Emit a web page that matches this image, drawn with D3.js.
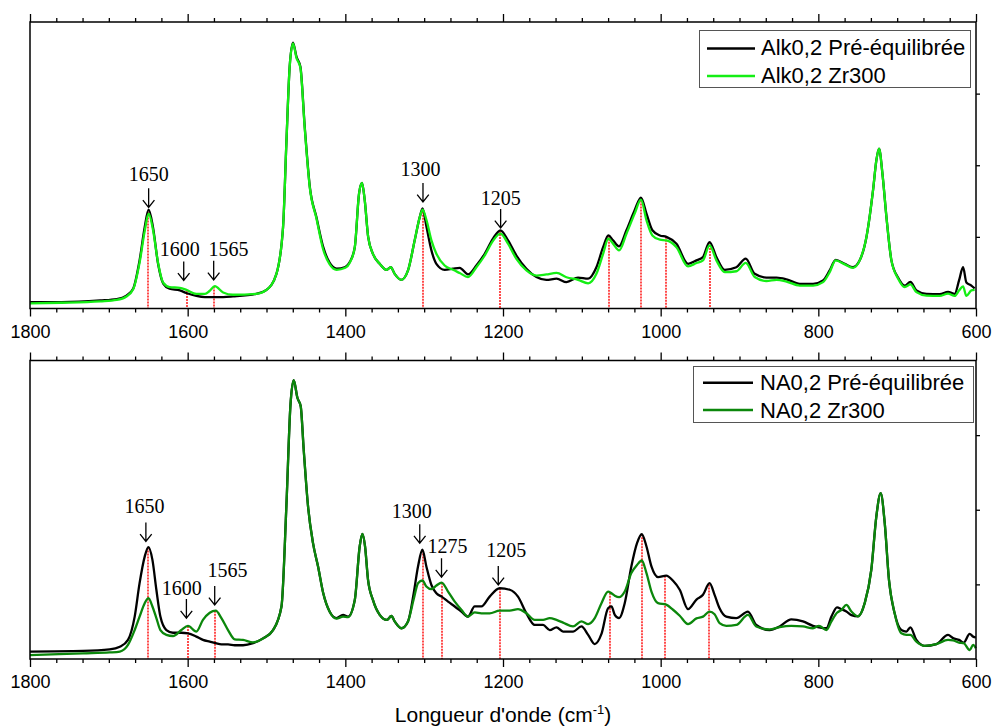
<!DOCTYPE html>
<html><head><meta charset="utf-8">
<script src="https://cdn.jsdelivr.net/npm/d3@7/dist/d3.min.js"></script>
<style>
html,body{margin:0;padding:0;background:#fff;}
svg{display:block;}
</style></head>
<body>
<svg id="chart" width="992" height="728"></svg>
<script>
// ---------------- DATA ----------------
const xMajorTicks = [1800, 1600, 1400, 1200, 1000, 800, 600];
const seriesNamesTop = ["Alk0,2 Pré-équilibrée", "Alk0,2 Zr300"];
const seriesNamesBot = ["NA0,2 Pré-équilibrée", "NA0,2 Zr300"];

const wnTop = [1800,1760,1711,1690,1677.7,1669,1661,1654.5,1649.5,1644,1637.6,1631,1623,1610,1601.6,1589,1578,1572,1565.6,1555,1542.5,1513,1500,1487.4,1479,1474.8,1470.6,1466.4,1462,1457,1451.5,1445,1436.7,1428,1420,1411,1400,1394.4,1388,1382.6,1378.8,1375.4,1371,1365,1356.4,1348,1342.4,1337.4,1329,1320.5,1312,1305.6,1302,1297,1290.8,1284.5,1274,1263.4,1255,1244.4,1233.8,1223.2,1212.7,1203.3,1193.6,1183,1170.3,1157.6,1145,1132,1119.5,1104.8,1092,1081.5,1073,1066.3,1060.4,1052.8,1043.4,1033,1025,1018,1010.5,1001,992.7,980,965.3,954.6,946.3,938,929.3,918.7,904,892.1,880.7,865.9,853,840.4,823.5,806.7,794,785.6,778,766.5,756,747.5,739,730.6,726.4,723,718.7,713.6,707.3,698.9,690.4,683.2,675.6,662.9,646,635.5,627,621.5,616.4,612.2,605.9,601.7];
const alkPre = [0.022,0.022,0.028,0.033,0.045,0.070,0.168,0.284,0.345,0.284,0.157,0.087,0.069,0.063,0.054,0.044,0.040,0.040,0.040,0.040,0.042,0.051,0.065,0.121,0.284,0.576,0.844,0.928,0.879,0.844,0.634,0.424,0.319,0.214,0.160,0.139,0.145,0.162,0.214,0.401,0.438,0.378,0.249,0.191,0.156,0.135,0.144,0.121,0.100,0.133,0.238,0.319,0.349,0.284,0.203,0.156,0.135,0.139,0.142,0.119,0.150,0.191,0.244,0.273,0.238,0.185,0.139,0.110,0.100,0.104,0.092,0.108,0.104,0.144,0.214,0.255,0.238,0.217,0.273,0.343,0.387,0.331,0.273,0.255,0.250,0.226,0.156,0.168,0.180,0.232,0.180,0.135,0.144,0.174,0.121,0.108,0.108,0.102,0.086,0.086,0.098,0.133,0.170,0.156,0.144,0.168,0.249,0.413,0.517,0.558,0.471,0.319,0.168,0.108,0.080,0.093,0.063,0.051,0.050,0.058,0.051,0.098,0.144,0.091,0.080,0.070];
const alkZr = [0.018,0.020,0.025,0.030,0.042,0.068,0.160,0.270,0.331,0.275,0.160,0.090,0.075,0.072,0.065,0.051,0.051,0.062,0.078,0.056,0.048,0.051,0.065,0.121,0.284,0.576,0.844,0.925,0.875,0.840,0.630,0.420,0.315,0.205,0.155,0.135,0.142,0.160,0.214,0.401,0.438,0.378,0.249,0.191,0.156,0.135,0.144,0.121,0.100,0.133,0.238,0.319,0.345,0.308,0.238,0.191,0.150,0.135,0.124,0.110,0.144,0.185,0.236,0.261,0.226,0.173,0.133,0.115,0.119,0.124,0.109,0.100,0.088,0.121,0.191,0.244,0.226,0.203,0.261,0.331,0.380,0.308,0.255,0.240,0.238,0.214,0.147,0.159,0.168,0.220,0.168,0.127,0.130,0.159,0.110,0.096,0.100,0.094,0.080,0.080,0.092,0.127,0.168,0.154,0.142,0.168,0.249,0.413,0.517,0.558,0.471,0.319,0.168,0.105,0.075,0.084,0.057,0.045,0.044,0.052,0.044,0.063,0.077,0.044,0.063,0.065];

const wnBot = [1800,1732.8,1699,1686,1675.7,1667.2,1661,1654.5,1649.8,1644.7,1639.7,1634.6,1627,1618.6,1608,1599.6,1589,1580.6,1572,1564.4,1557.2,1548.8,1540.3,1529.8,1517,1504.4,1491.7,1481,1474.8,1469.7,1465.5,1460.8,1456.6,1452.8,1447.3,1441,1434.6,1428,1420,1411.3,1402.9,1396.6,1388,1381.8,1378.4,1375,1371.2,1365,1356.4,1347.2,1341.6,1337.4,1329,1320.5,1313.3,1307.8,1302.2,1297.2,1290.8,1284.5,1277.8,1269.7,1261.2,1252.8,1244.4,1235.9,1227.4,1216.9,1204.2,1191.5,1181,1170.3,1159.8,1149.2,1140.7,1132.2,1123.8,1111.1,1100.5,1092,1083.6,1075.1,1066.7,1062.4,1058.2,1052.8,1045.6,1037.2,1030,1024,1018,1011.7,1003.3,993,984.3,975.8,965.3,954.6,946.3,938,931.6,925.3,916.8,904.1,889.3,878.7,861.8,849.1,834.3,819.5,806.8,799.2,789.8,783.4,776.3,770.8,764.4,758,749.7,741.2,732.8,726.4,720.9,715.8,710.4,703.2,694.7,688.3,683.3,675.6,665,650.2,635.5,629.1,621.5,615.6,608,603.6,600.2];
const naPre = [0.025,0.027,0.032,0.041,0.064,0.142,0.254,0.343,0.375,0.332,0.232,0.142,0.097,0.088,0.088,0.086,0.075,0.064,0.058,0.053,0.049,0.049,0.046,0.046,0.053,0.069,0.097,0.176,0.511,0.847,0.934,0.875,0.847,0.701,0.511,0.388,0.310,0.220,0.159,0.137,0.148,0.142,0.198,0.377,0.419,0.377,0.265,0.198,0.148,0.131,0.144,0.126,0.103,0.126,0.220,0.310,0.366,0.310,0.248,0.220,0.209,0.192,0.176,0.159,0.142,0.176,0.176,0.209,0.237,0.232,0.209,0.153,0.114,0.114,0.097,0.106,0.092,0.092,0.109,0.081,0.050,0.084,0.170,0.176,0.148,0.137,0.187,0.310,0.388,0.418,0.377,0.310,0.274,0.279,0.262,0.232,0.167,0.199,0.215,0.254,0.215,0.170,0.142,0.137,0.159,0.114,0.097,0.109,0.133,0.126,0.111,0.106,0.103,0.142,0.173,0.167,0.159,0.147,0.143,0.187,0.299,0.478,0.556,0.456,0.265,0.153,0.097,0.092,0.106,0.064,0.044,0.050,0.081,0.070,0.064,0.055,0.084,0.075,0.072];
const naZr = [0.013,0.019,0.022,0.025,0.047,0.097,0.142,0.187,0.204,0.176,0.137,0.097,0.081,0.077,0.097,0.111,0.092,0.131,0.155,0.162,0.137,0.097,0.066,0.064,0.056,0.069,0.097,0.176,0.511,0.847,0.934,0.875,0.847,0.701,0.511,0.388,0.310,0.220,0.159,0.135,0.142,0.140,0.198,0.377,0.419,0.377,0.265,0.198,0.148,0.131,0.144,0.126,0.103,0.126,0.200,0.254,0.263,0.243,0.234,0.246,0.256,0.226,0.192,0.165,0.142,0.156,0.153,0.153,0.162,0.162,0.167,0.153,0.131,0.131,0.137,0.131,0.122,0.109,0.126,0.117,0.137,0.187,0.226,0.220,0.212,0.207,0.226,0.288,0.315,0.330,0.288,0.226,0.187,0.182,0.165,0.145,0.117,0.136,0.142,0.159,0.150,0.120,0.111,0.114,0.148,0.109,0.099,0.107,0.111,0.109,0.103,0.111,0.097,0.126,0.155,0.164,0.181,0.159,0.143,0.187,0.299,0.478,0.556,0.456,0.265,0.153,0.086,0.081,0.081,0.058,0.044,0.050,0.064,0.062,0.055,0.053,0.030,0.047,0.036];

// red dotted band markers (wavenumbers)
const markersTop = [1650, 1601, 1566, 1301, 1204, 1066, 1025, 993, 938];
const markersBot = [1650, 1600, 1565, 1302, 1278, 1204, 1064, 1024, 994, 939];

// arrow annotations: label, wavenumber, arrow tip height (data units)
const annTopLabels = ["1650", "1600", "1565", "1300", "1205"];
const annTopWn = [1649.5, 1605, 1567, 1301.5, 1203];
const annTopTip = [0.353, 0.098, 0.100, 0.372, 0.281];
const annBotLabels = ["1650", "1600", "1565", "1300", "1275", "1205"];
const annBotWn = [1653, 1601.6, 1565.7, 1305.6, 1278, 1206];
const annBotTip = [0.394, 0.137, 0.181, 0.388, 0.274, 0.248];

// ---------------- LAYOUT / STYLE ----------------
const annTopDx = [0, -4, 14.7, -2.6, 0], annTopGap = [7, 5, 5, 6.7, 4.3];
const annBotDx = [-1.3, -4.7, 12.8, -8, 6, 8], annBotGap = [9, 4.3, 9, 5.7, 5, 9.4];
const SANS = "'Liberation Sans', Arial, sans-serif";
const SERIF = "'Liberation Serif', 'Times New Roman', serif";

const svg = d3.select("#chart");
const x = d3.scaleLinear().domain([1800, 600]).range([30, 976]);
const minorTicks = d3.range(0, 37).map(i => 1800 - i * 200 / 6).filter(v => Math.abs((v - 600) % 200) > 1 && Math.abs((v - 600) % 200 - 200) > 1);

const panels = [
  {top: 22, bottom: 308.5, wn: wnTop, s: [alkPre, alkZr], colors: ["#000000", "#14ee14"], names: seriesNamesTop,
   markers: markersTop, ann: [annTopLabels, annTopWn, annTopTip, annTopDx, annTopGap],
   legend: {x0: 699.5, y0: 30.5, x1: 970.5, y1: 87.5, lx0: 707, lx1: 755, tx: 761, rows: [48.5, 76], base: [55.3, 82.6]}},
  {top: 360.5, bottom: 659, wn: wnBot, s: [naPre, naZr], colors: ["#000000", "#0b870b"], names: seriesNamesBot,
   markers: markersBot, ann: [annBotLabels, annBotWn, annBotTip, annBotDx, annBotGap],
   legend: {x0: 693.5, y0: 366.5, x1: 973.5, y1: 422.5, lx0: 703, lx1: 753, tx: 760, rows: [382.7, 410], base: [390, 417.7]}}
];

function interp(wns, vals, w) {
  for (let i = 0; i < wns.length - 1; i++) {
    if (w <= wns[i] && w >= wns[i + 1]) {
      const t = (wns[i] - w) / (wns[i] - wns[i + 1]);
      return vals[i] + t * (vals[i + 1] - vals[i]);
    }
  }
  return vals[vals.length - 1];
}

panels.forEach(p => {
  const y = d3.scaleLinear().domain([0, 1]).range([p.bottom, p.top]);
  const g = svg.append("g");

  // red dotted marker lines
  p.markers.forEach(m => {
    const v = Math.max(interp(p.wn, p.s[0], m), interp(p.wn, p.s[1], m));
    const mx = Math.round(x(m));
    g.append("line").attr("x1", mx).attr("x2", mx).attr("y1", y(v)).attr("y2", p.bottom)
      .attr("stroke", "#ff0000").attr("stroke-width", 1.4).attr("stroke-dasharray", "2,1");
  });

  // series
  const line = d3.line().x((d, i) => x(p.wn[i])).y(d => y(d)).curve(d3.curveMonotoneX);
  p.s.forEach((vals, k) => {
    g.append("path").attr("d", line(vals)).attr("fill", "none")
      .attr("stroke", p.colors[k]).attr("stroke-width", 2.3).attr("stroke-linejoin", "round");
  });

  // axes
  const mkAxis = (gen, vals, size, sel, labels) => {
    const a = sel.call(gen.tickValues(vals).tickSize(size).tickSizeOuter(0).tickFormat(labels ? d3.format("d") : ""));
    a.select(".domain").remove();
    a.selectAll(".tick line").attr("stroke", "#000").attr("stroke-width", 1.3);
    return a;
  };
  const bottomG = g.append("g").attr("transform", `translate(0,${p.bottom})`);
  mkAxis(d3.axisBottom(x), xMajorTicks, 8, bottomG, true);
  bottomG.selectAll(".tick text").attr("y", 29).attr("dy", 0)
    .style("font-family", SANS).style("font-size", "18px").attr("fill", "#000");
  mkAxis(d3.axisBottom(x), minorTicks, 4, g.append("g").attr("transform", `translate(0,${p.bottom})`), false);
  mkAxis(d3.axisTop(x), xMajorTicks, 8, g.append("g").attr("transform", `translate(0,${p.top})`), false);
  mkAxis(d3.axisTop(x), minorTicks, 4, g.append("g").attr("transform", `translate(0,${p.top})`), false);
  mkAxis(d3.axisRight(y), [0.25, 0.5, 0.75], 4, g.append("g").attr("transform", `translate(${x(600)},0)`), false);

  // frame
  g.append("rect").attr("x", x(1800)).attr("y", p.top).attr("width", x(600) - x(1800)).attr("height", p.bottom - p.top)
    .attr("fill", "none").attr("stroke", "#000").attr("stroke-width", 1.5);

  // annotations
  const [labs, wns, tips, dxs, gaps] = p.ann;
  labs.forEach((lab, i) => {
    const ax = x(wns[i]), tipY = y(tips[i]), topY = tipY - 19;
    g.append("path").attr("d", `M${ax},${topY}V${tipY}M${ax - 5.8},${tipY - 7.3}L${ax},${tipY}L${ax + 5.8},${tipY - 7.3}`)
      .attr("fill", "none").attr("stroke", "#000").attr("stroke-width", 1.3);
    g.append("text").attr("x", ax + dxs[i]).attr("y", topY - gaps[i]).attr("text-anchor", "middle")
      .style("font-family", SERIF).style("font-size", "20px").attr("fill", "#000").text(lab);
  });

  // legend
  const L = p.legend;
  g.append("rect").attr("x", L.x0).attr("y", L.y0).attr("width", L.x1 - L.x0).attr("height", L.y1 - L.y0)
    .attr("fill", "#fff").attr("stroke", "#555").attr("stroke-width", 1);
  p.names.forEach((nm, k) => {
    g.append("line").attr("x1", L.lx0).attr("x2", L.lx1).attr("y1", L.rows[k]).attr("y2", L.rows[k])
      .attr("stroke", p.colors[k]).attr("stroke-width", 2.5);
    g.append("text").attr("x", L.tx).attr("y", L.base[k]).style("font-family", SANS).style("font-size", "22px")
      .attr("fill", "#000").text(nm);
  });
});

// x-axis title
const title = svg.append("text").attr("x", 503).attr("y", 722).attr("text-anchor", "middle")
  .style("font-family", SANS).style("font-size", "21px").attr("fill", "#000");
title.append("tspan").text("Longueur d'onde (cm");
title.append("tspan").attr("dy", -8).style("font-size", "13px").text("-1");
title.append("tspan").attr("dy", 8).text(")");
</script>
</body></html>
